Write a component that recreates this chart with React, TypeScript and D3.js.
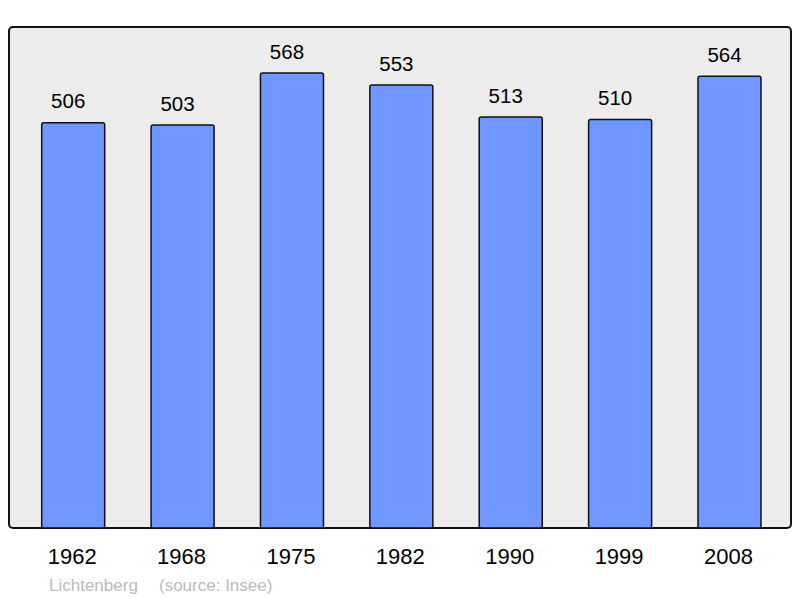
import React from "react";
import * as d3 from "d3";

const years = ["1962", "1968", "1975", "1982", "1990", "1999", "2008"];
const population = [506, 503, 568, 553, 513, 510, 564];
const commune = "Lichtenberg";
const source = "(source: Insee)";

const W = 800;
const H = 598;
const frame = { x: 9, y: 27, w: 782, h: 501 };

export default function App() {
  const x = d3
    .scaleBand<string>()
    .domain(years)
    .range([41.7, 761])
    .paddingInner(0.424)
    .paddingOuter(0);
  const y = d3.scaleLinear().domain([0, 625.5]).range([528, 27]);
  const bw = x.bandwidth();

  return (
    <svg
      width={W}
      height={H}
      style={{ position: "absolute", left: 0, top: 0 }}
      fontFamily="'Liberation Sans', Arial, sans-serif"
    >
      <rect x={0} y={0} width={W} height={H} fill="#ffffff" />
      <rect
        x={frame.x}
        y={frame.y}
        width={frame.w}
        height={frame.h}
        rx={4}
        ry={4}
        fill="#ececec"
        stroke="#111"
        strokeWidth={2}
      />
      {years.map((yr, i) => {
        const x0 = x(yr) as number;
        const top = y(population[i]);
        return (
          <g key={yr}>
            <rect
              x={x0}
              y={top}
              width={bw}
              height={y(0) - top}
              rx={2}
              ry={2}
              fill="#7097ff"
              stroke="#111"
              strokeWidth={1.5}
            />
            <text
              x={x0 + bw / 2 - 5}
              y={top - 14.4}
              textAnchor="middle"
              fontSize={20.5}
              fill="#000"
            >
              {population[i]}
            </text>
            <text
              x={x0 + bw / 2 - 1}
              y={564}
              textAnchor="middle"
              fontSize={22}
              fill="#000"
            >
              {yr}
            </text>
          </g>
        );
      })}
      <text x={49} y={590.5} fontSize={17} fill="#bbbbbb">
        {commune}
      </text>
      <text x={159} y={590.5} fontSize={17} fill="#bbbbbb">
        {source}
      </text>
    </svg>
  );
}
